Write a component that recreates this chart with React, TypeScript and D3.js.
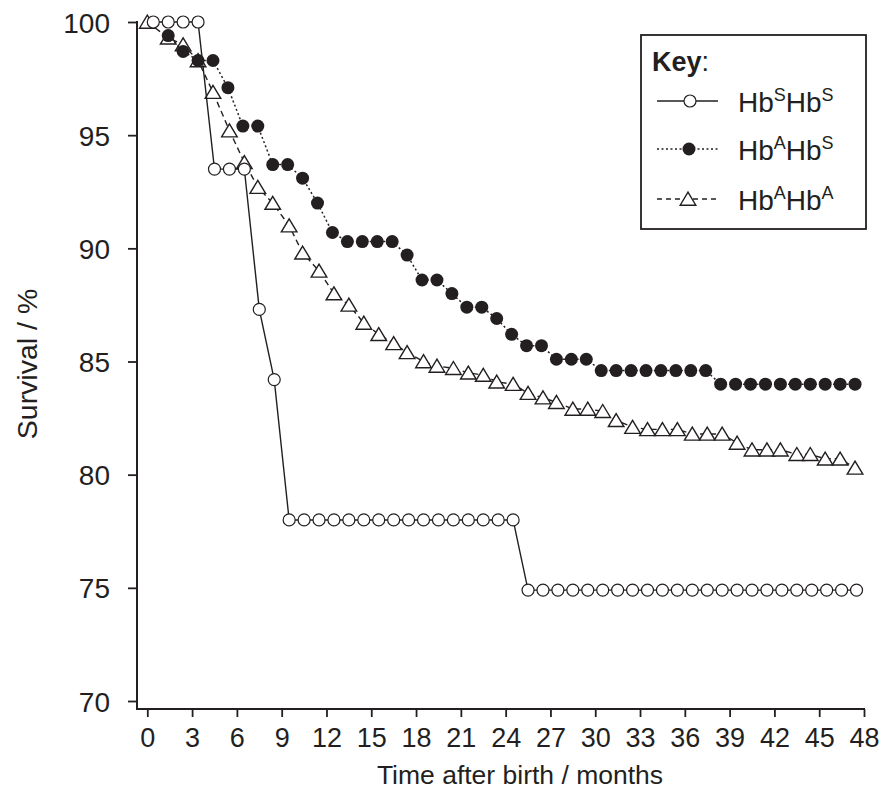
import React, { useEffect, useRef } from "react";
import * as d3 from "d3";

// ---- data (months after birth, survival %) ----
const ssMonths = [0.4, 1.4, 2.4, 3.4, 4.5, 5.5, 6.5, 7.5, 8.5, 9.5, 10.5, 11.5, 12.5, 13.5, 14.5, 15.5, 16.5, 17.5, 18.5, 19.5, 20.5, 21.5, 22.5, 23.5, 24.5, 25.5, 26.5, 27.5, 28.5, 29.5, 30.5, 31.5, 32.5, 33.5, 34.5, 35.5, 36.5, 37.5, 38.5, 39.5, 40.5, 41.5, 42.5, 43.5, 44.5, 45.5, 46.5, 47.5];
const ssSurvival = [100, 100, 100, 100, 93.5, 93.5, 93.5, 87.3, 84.2, 78.0, 78.0, 78.0, 78.0, 78.0, 78.0, 78.0, 78.0, 78.0, 78.0, 78.0, 78.0, 78.0, 78.0, 78.0, 78.0, 74.9, 74.9, 74.9, 74.9, 74.9, 74.9, 74.9, 74.9, 74.9, 74.9, 74.9, 74.9, 74.9, 74.9, 74.9, 74.9, 74.9, 74.9, 74.9, 74.9, 74.9, 74.9, 74.9];

const asMonths = [1.4, 2.4, 3.4, 4.4, 5.4, 6.4, 7.4, 8.4, 9.4, 10.4, 11.4, 12.4, 13.4, 14.4, 15.4, 16.4, 17.4, 18.4, 19.4, 20.4, 21.4, 22.4, 23.4, 24.4, 25.4, 26.4, 27.4, 28.4, 29.4, 30.4, 31.4, 32.4, 33.4, 34.4, 35.4, 36.4, 37.4, 38.4, 39.4, 40.4, 41.4, 42.4, 43.4, 44.4, 45.4, 46.4, 47.4];
const asSurvival = [99.4, 98.7, 98.3, 98.3, 97.1, 95.4, 95.4, 93.7, 93.7, 93.1, 92.0, 90.7, 90.3, 90.3, 90.3, 90.3, 89.7, 88.6, 88.6, 88.0, 87.4, 87.4, 86.9, 86.2, 85.7, 85.7, 85.1, 85.1, 85.1, 84.6, 84.6, 84.6, 84.6, 84.6, 84.6, 84.6, 84.6, 84.0, 84.0, 84.0, 84.0, 84.0, 84.0, 84.0, 84.0, 84.0, 84.0];

const aaMonths = [0, 1.4, 2.4, 3.4, 4.4, 5.5, 6.5, 7.4, 8.4, 9.5, 10.4, 11.5, 12.5, 13.5, 14.5, 15.5, 16.5, 17.4, 18.5, 19.4, 20.5, 21.5, 22.5, 23.4, 24.5, 25.5, 26.5, 27.4, 28.5, 29.5, 30.5, 31.4, 32.5, 33.5, 34.5, 35.5, 36.5, 37.5, 38.5, 39.5, 40.5, 41.5, 42.4, 43.5, 44.4, 45.4, 46.4, 47.4];
const aaSurvival = [100, 99.3, 99.0, 98.3, 96.9, 95.2, 93.8, 92.7, 92.0, 91.0, 89.8, 89.0, 88.0, 87.5, 86.7, 86.2, 85.8, 85.4, 85.0, 84.8, 84.7, 84.5, 84.4, 84.1, 84.0, 83.6, 83.4, 83.2, 82.9, 82.9, 82.8, 82.4, 82.1, 82.0, 82.0, 82.0, 81.8, 81.8, 81.8, 81.4, 81.1, 81.1, 81.1, 80.9, 80.9, 80.7, 80.7, 80.3];

const xTicks = [0, 3, 6, 9, 12, 15, 18, 21, 24, 27, 30, 33, 36, 39, 42, 45, 48];
const yTicks = [70, 75, 80, 85, 90, 95, 100];

const INK = "#231f20";
const FONT = "Arial, 'Liberation Sans', Helvetica, sans-serif";

function zip(xs: number[], ys: number[]): [number, number][] {
  return xs.map((v, i) => [v, ys[i]]);
}

const triPath = "M0,-6.8L7.8,6.2L-7.8,6.2Z";

export default function App() {
  const ref = useRef<SVGSVGElement>(null);

  useEffect(() => {
    const svg = d3.select(ref.current);
    svg.selectAll("*").remove();

    const x = d3.scaleLinear().domain([0, 48]).range([147.3, 864]);
    const y = d3.scaleLinear().domain([70, 100]).range([701, 22]);

    // axes
    const yAxis = d3.axisLeft(y).tickValues(yTicks).tickSize(9).tickPadding(18).tickFormat(d3.format("d"));
    const gy = svg.append("g").attr("transform", "translate(137,0)").call(yAxis);
    gy.select(".domain").remove();
    gy.selectAll("line").attr("stroke", INK).attr("stroke-width", 1.8);
    gy.selectAll("text").attr("font-size", 28).attr("font-family", FONT).attr("fill", INK).attr("dy", "0.36em");

    const xAxis = d3.axisBottom(x).tickValues(xTicks).tickSize(8).tickPadding(11).tickFormat(d3.format("d"));
    const gx = svg.append("g").attr("transform", "translate(0,709)").call(xAxis);
    gx.select(".domain").remove();
    gx.selectAll("line").attr("stroke", INK).attr("stroke-width", 1.8);
    gx.selectAll("text").attr("font-size", 27).attr("font-family", FONT).attr("fill", INK);

    svg.append("line").attr("x1", 137).attr("x2", 137).attr("y1", 21).attr("y2", 710)
      .attr("stroke", INK).attr("stroke-width", 2);
    svg.append("line").attr("x1", 136).attr("x2", 865).attr("y1", 709).attr("y2", 709)
      .attr("stroke", INK).attr("stroke-width", 2);

    // axis titles
    svg.append("text").attr("x", 520).attr("y", 784).attr("text-anchor", "middle")
      .attr("font-size", 26.5).attr("font-family", FONT).attr("fill", INK).text("Time after birth / months");
    svg.append("text").attr("transform", "translate(37,364) rotate(-90)").attr("text-anchor", "middle")
      .attr("font-size", 28.5).attr("font-family", FONT).attr("fill", INK).text("Survival / %");

    const line = d3.line<[number, number]>().x((d) => x(d[0])).y((d) => y(d[1]));

    // HbAHbA: dashed line + open triangles
    const aa = zip(aaMonths, aaSurvival);
    svg.append("path").attr("d", line(aa)).attr("fill", "none").attr("stroke", INK)
      .attr("stroke-width", 1.4).attr("stroke-dasharray", "6,4");
    svg.append("g").selectAll("path").data(aa).join("path")
      .attr("d", triPath).attr("transform", (d) => `translate(${x(d[0])},${y(d[1])})`)
      .attr("fill", "white").attr("stroke", INK).attr("stroke-width", 1.4);

    // HbAHbS: dotted line + filled circles
    const as = zip(asMonths, asSurvival);
    svg.append("path").attr("d", line(as)).attr("fill", "none").attr("stroke", INK)
      .attr("stroke-width", 1.5).attr("stroke-dasharray", "2,2.5");
    svg.append("g").selectAll("circle").data(as).join("circle")
      .attr("cx", (d) => x(d[0])).attr("cy", (d) => y(d[1])).attr("r", 6.5).attr("fill", INK);

    // HbSHbS: solid line + open circles
    const ss = zip(ssMonths, ssSurvival);
    svg.append("path").attr("d", line(ss)).attr("fill", "none").attr("stroke", INK).attr("stroke-width", 1.4);
    svg.append("g").selectAll("circle").data(ss).join("circle")
      .attr("cx", (d) => x(d[0])).attr("cy", (d) => y(d[1])).attr("r", 6)
      .attr("fill", "white").attr("stroke", INK).attr("stroke-width", 1.2);

    // legend
    const lg = svg.append("g");
    lg.append("rect").attr("x", 641).attr("y", 35).attr("width", 225).attr("height", 194)
      .attr("fill", "white").attr("stroke", INK).attr("stroke-width", 1.8);
    const key = lg.append("text").attr("x", 652).attr("y", 71).attr("font-size", 27)
      .attr("font-family", FONT).attr("fill", INK);
    key.append("tspan").attr("font-weight", "bold").text("Key");
    key.append("tspan").text(":");

    const rows = [
      { cy: 101, a: "S", b: "S", dash: null as string | null, mark: "open" },
      { cy: 149, a: "A", b: "S", dash: "2,2.5", mark: "filled" },
      { cy: 199, a: "A", b: "A", dash: "5,4", mark: "tri" },
    ];
    rows.forEach((r) => {
      const l = lg.append("line").attr("x1", 657).attr("x2", 718).attr("y1", r.cy).attr("y2", r.cy)
        .attr("stroke", INK).attr("stroke-width", 1.4);
      if (r.dash) l.attr("stroke-dasharray", r.dash);
      if (r.mark === "open") {
        lg.append("circle").attr("cx", 690).attr("cy", r.cy).attr("r", 6).attr("fill", "white")
          .attr("stroke", INK).attr("stroke-width", 1.2);
      } else if (r.mark === "filled") {
        lg.append("circle").attr("cx", 689).attr("cy", r.cy).attr("r", 6.5).attr("fill", INK);
      } else {
        lg.append("path").attr("d", triPath).attr("transform", `translate(688,${r.cy})`)
          .attr("fill", "white").attr("stroke", INK).attr("stroke-width", 1.4);
      }
      const t = lg.append("text").attr("x", 738).attr("y", r.cy + 11).attr("font-size", 28)
        .attr("font-family", FONT).attr("fill", INK);
      t.append("tspan").text("Hb");
      t.append("tspan").attr("font-size", 18).attr("dy", -11).text(r.a);
      t.append("tspan").attr("dy", 11).text("Hb");
      t.append("tspan").attr("font-size", 18).attr("dy", -11).text(r.b);
    });
  }, []);

  return (
    <svg
      ref={ref}
      width={882}
      height={794}
      style={{ position: "absolute", left: 0, top: 0, background: "white" }}
    />
  );
}
